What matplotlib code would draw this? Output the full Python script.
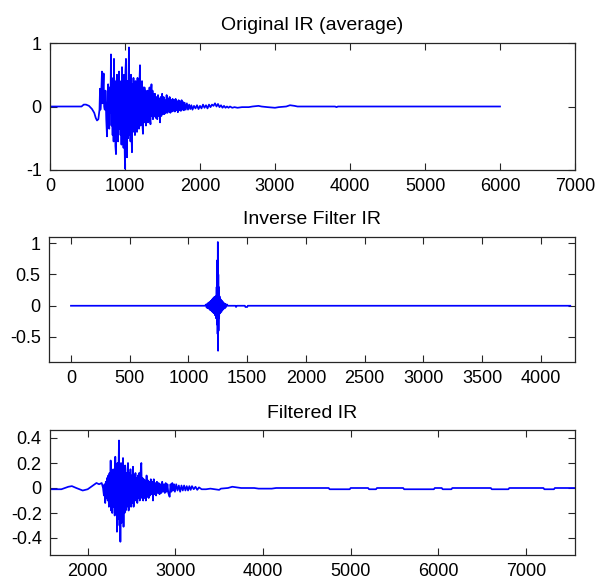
import matplotlib
matplotlib.use("Agg")
import matplotlib.pyplot as plt
from matplotlib.ticker import FuncFormatter

plt.rcParams['font.family'] = ['Liberation Sans', 'DejaVu Sans']
plt.rcParams['axes.unicode_minus'] = False

# Original IR (average): sample index / amplitude
orig_x = [0, 420, 450, 480, 520, 560, 590, 610, 627, 645, 660, 667, 672, 680, 693, 700, 708, 715, 722, 730,
          740, 750, 760, 768, 775, 782, 790, 797, 805, 813, 820, 827, 835, 842, 848, 853, 860, 866, 872, 880,
          886, 893, 900, 907, 913, 920, 927, 934, 940, 947, 953, 960, 967, 973, 980, 987, 993, 1000, 1006, 1013,
          1020, 1027, 1033, 1040, 1047, 1053, 1060, 1067, 1073, 1080, 1087, 1093, 1100, 1107, 1113, 1120, 1127,
          1133, 1140, 1147, 1153, 1160, 1167, 1173, 1180, 1187, 1193, 1200, 1207, 1213, 1220, 1227, 1233, 1240,
          1247, 1253, 1260, 1267, 1273, 1280, 1287, 1293, 1300, 1307, 1313, 1320, 1327, 1333, 1340, 1347, 1353,
          1360, 1367, 1373, 1380, 1390, 1400, 1410, 1420, 1430, 1440, 1450, 1460, 1467, 1475, 1485, 1495, 1505,
          1515, 1525, 1535, 1545, 1555, 1565, 1575, 1585, 1595, 1605, 1615, 1625, 1635, 1645, 1655, 1665, 1675,
          1685, 1695, 1705, 1715, 1725, 1735, 1745, 1755, 1765, 1775, 1785, 1795, 1810, 1825, 1840, 1855, 1870,
          1885, 1900, 1920, 1940, 1960, 1980, 2000, 2020, 2040, 2060, 2080, 2100, 2120, 2140, 2160, 2180, 2200,
          2220, 2240, 2260, 2280, 2300, 2320, 2340, 2360, 2380, 2400, 2430, 2460, 2500, 2560, 2650, 2700, 2780,
          2820, 2900, 3000, 3050, 3150, 3200, 3260, 3300, 3800, 3820, 3840, 6000]
orig_y = [0, 0, 0.03, 0.03, 0.01, -0.04, -0.1, -0.18, -0.22, -0.2, -0.05, 0.28, -0.05, 0.1, 0.55, 0.05, 0.3, 0.52, 0.0, -0.05,
          0.25, -0.2, -0.47, 0.1, 0.35, -0.2, -0.35, 0.3, -0.1, 0.82, -0.3, 0.2, -0.45, 0.45, -0.55, 0.75, -0.3, 0.4, -0.62, -0.75,
          0.35, 0.5, -0.45, -0.55, 0.4, 0.55, -0.35, 0.3, -0.45, 0.4, -0.6, 0.62, -0.4, 0.35, -0.65, 0.5, -0.5, -0.98, 0.55, 0.75,
          -0.55, -0.8, 0.4, -0.5, 0.45, 0.93, -0.45, 0.4, -0.55, 0.5, -0.45, -0.72, 0.35, -0.4, 0.45, -0.35, 0.35,
          -0.45, 0.4, -0.3, 0.35, -0.4, 0.45, -0.3, 0.35, -0.35, 0.4, 0.65, -0.3, 0.35, -0.25, 0.4, -0.3, -0.43,
          0.3, -0.25, 0.3, -0.25, 0.25, -0.3, 0.2, -0.2, 0.25, -0.25, 0.2, -0.18, 0.3, -0.2, -0.28, 0.2, 0.35,
          -0.15, 0.25, -0.2, 0.2, -0.15, 0.2, -0.18, 0.15, -0.2, 0.18, -0.15, 0.12, -0.25, 0.15, -0.15, 0.2, -0.12,
          0.15, -0.12, 0.1, -0.1, 0.18, -0.1, 0.12, -0.08, 0.15, -0.1, 0.1, -0.08, 0.12, -0.07, 0.1, -0.08, 0.12,
          -0.06, 0.08, -0.09, 0.1, -0.06, 0.08, -0.07, 0.1, -0.05, 0.07, -0.06, 0.06, -0.05, 0.05, -0.05, 0.03, -0.04,
          0.02, -0.05, 0.01, -0.03, 0.02, -0.04, 0.01, -0.03, 0.03, -0.02, 0.02, -0.03, 0.03, -0.01, 0.03, 0.01, 0.05,
          0.0, 0.04, -0.01, 0.02, -0.02, 0.01, -0.02, 0.0, -0.02, 0.0, -0.02, -0.01, -0.02, -0.01, -0.01, 0.0, 0.01,
          0.0, -0.01, -0.02, -0.01, 0.0, 0.02, 0.01, 0.0, 0.0, -0.01, 0.0, 0.0]

# Inverse filter IR
inv_x = [0, 1140, 1150, 1155, 1160, 1165, 1170, 1175, 1180, 1185, 1190, 1195, 1200, 1205, 1210, 1215, 1220,
         1225, 1230, 1235, 1240, 1243, 1246, 1248, 1250, 1252, 1254, 1256, 1258, 1261, 1265, 1270, 1275, 1280,
         1285, 1290, 1295, 1300, 1305, 1310, 1315, 1320, 1328, 1335, 1400, 1405, 1412, 1480, 1485, 1500, 1505, 4250]
inv_y = [0, 0, 0.02, -0.03, 0.03, -0.04, 0.05, -0.05, 0.06, -0.07, 0.08, -0.08, 0.1, -0.1, 0.12, -0.12, 0.14,
         -0.15, 0.15, -0.2, 0.3, -0.3, 0.73, -0.45, 1.02, -0.72, 0.5, -0.4, 0.3, -0.2, 0.15, -0.12, 0.1, -0.1,
         0.08, -0.07, 0.06, -0.05, 0.04, -0.04, 0.03, -0.02, 0.02, 0, 0, -0.02, 0, 0, -0.02, -0.02, 0, 0]

# Filtered IR
filt_x = [1570, 1700, 1780, 1820, 1870, 1943, 2000, 2060, 2100, 2130, 2160, 2175, 2185, 2192, 2200, 2207, 2214,
          2221, 2228, 2235, 2242, 2249, 2256, 2262, 2268, 2274, 2280, 2287, 2294, 2300, 2308, 2315, 2322, 2328,
          2334, 2340, 2346, 2352, 2357, 2363, 2368, 2373, 2379, 2385, 2391, 2397, 2403, 2409, 2415, 2421, 2427,
          2433, 2440, 2447, 2454, 2460, 2467, 2474, 2481, 2488, 2495, 2502, 2509, 2517, 2524, 2531, 2538, 2545,
          2552, 2559, 2566, 2573, 2580, 2587, 2594, 2601, 2612, 2619, 2626, 2633, 2640, 2648, 2656, 2664, 2672,
          2680, 2688, 2696, 2704, 2712, 2720, 2728, 2736, 2745, 2754, 2763, 2772, 2781, 2790, 2800, 2810, 2820,
          2830, 2840, 2850, 2860, 2870, 2880, 2890, 2900, 2910, 2920, 2935, 2945, 2955, 2965, 2975, 2985, 2995,
          3010, 3025, 3040, 3055, 3070, 3085, 3100, 3115, 3130, 3145, 3160, 3175, 3190, 3210, 3230, 3250, 3270,
          3300, 3350, 3400, 3450, 3500, 3520, 3600, 3650, 3700, 3750, 3900, 3950, 4100, 4150, 4600, 4750, 4760,
          4990, 5000, 5200, 5210, 5290, 5300, 5600, 5610, 5950, 5960, 6040, 6050, 6150, 6160, 6600, 6610, 6800,
          6810, 7200, 7210, 7320, 7330, 7560]
filt_y = [-0.01, -0.01, 0.01, 0.015, 0.0, -0.02, -0.01, 0.02, 0.04, 0.03, 0.04, 0.0, -0.06, 0.03, -0.12, 0.05, -0.08,
          0.08, -0.1, 0.1, -0.15, 0.12, -0.1, 0.22, -0.18, 0.15, -0.2, 0.1, -0.15, 0.15, -0.22, 0.25, -0.15, 0.15,
          -0.35, 0.2, -0.25, 0.15, 0.38, -0.3, 0.2, -0.43, 0.15, -0.28, 0.2, -0.2, 0.24, -0.31, 0.15, -0.2, 0.18,
          -0.18, 0.12, -0.15, 0.15, 0.2, -0.18, 0.12, -0.12, 0.15, -0.15, 0.1, -0.12, 0.17, -0.15, 0.1, -0.1, 0.12,
          -0.1, 0.08, -0.12, 0.1, -0.08, 0.12, -0.1, 0.1, 0.2, -0.08, 0.08, -0.1, 0.07, -0.08, 0.06, -0.1, 0.1,
          -0.07, 0.06, -0.08, 0.05, -0.06, 0.07, -0.05, 0.05, -0.1, 0.07, -0.05, 0.04, -0.06, 0.05, -0.04, 0.04, -0.05,
          0.03, -0.04, 0.05, -0.03, 0.03, -0.04, 0.04, -0.03, 0.03, -0.04, -0.07, 0.03, -0.03, 0.04, -0.02, 0.03, -0.03,
          0.03, -0.02, 0.02, -0.03, 0.02, -0.02, 0.02, -0.02, 0.015, -0.02, 0.015, -0.015, 0.015, -0.01, 0.01, -0.015, 0.005,
          -0.01, -0.01, -0.005, -0.01, -0.015, -0.005, 0.0, 0.01, 0.005, 0.0, 0.0, -0.005, -0.005, 0.0, 0.0, 0.0, -0.01,
          -0.01, 0.0, 0.0, -0.01, -0.01, 0.0, 0.0, -0.01, -0.01, 0.0, 0.0, -0.01, -0.01, 0.0, 0.0, -0.01, -0.01,
          0.0, 0.0, -0.01, -0.01, 0.0, 0.0]

W, H = 597, 581
fig = plt.figure(figsize=(W / 100, H / 100), dpi=100)
fig.patch.set_facecolor('white')


def make_axes(left, top, right, bottom):
    # pixel box -> figure fraction
    return fig.add_axes([left / W, 1 - bottom / H, (right - left) / W, (bottom - top) / H])


def style(ax):
    ax.tick_params(direction='in', top=True, right=True, length=5, width=0.8,
                   labelsize=13, pad=6, colors='0.15', labelcolor='black')
    for s in ax.spines.values():
        s.set_color('0.15')
        s.set_linewidth(0.9)
    ax.yaxis.set_major_formatter(FuncFormatter(lambda v, p: '%g' % round(v, 6)))


ax1 = make_axes(50, 43, 575, 170)
ax1.plot(orig_x, orig_y, color='blue', lw=1.25)
ax1.set_xlim(0, 7000)
ax1.set_ylim(-1, 1)
ax1.set_xticks(range(0, 7001, 1000))
ax1.set_yticks([-1, 0, 1])
ax1.set_title('Original IR (average)', fontsize=14, pad=9)
style(ax1)

ax2 = make_axes(49, 237, 575, 362)
ax2.plot(inv_x, inv_y, color='blue', lw=1.25)
ax2.set_xlim(-187, 4290)
ax2.set_ylim(-0.9, 1.1)
ax2.set_xticks(range(0, 4001, 500))
ax2.set_yticks([-0.5, 0, 0.5, 1])
ax2.set_title('Inverse Filter IR', fontsize=14, pad=9)
style(ax2)

ax3 = make_axes(50, 430, 575, 555)
ax3.plot(filt_x, filt_y, color='blue', lw=1.25)
ax3.set_xlim(1570, 7560)
ax3.set_ylim(-0.536, 0.464)
ax3.set_xticks(range(2000, 7001, 1000))
ax3.set_yticks([-0.4, -0.2, 0, 0.2, 0.4])
ax3.set_title('Filtered IR', fontsize=14, pad=9)
style(ax3)

fig.savefig('out.png', dpi=100, facecolor='white')
